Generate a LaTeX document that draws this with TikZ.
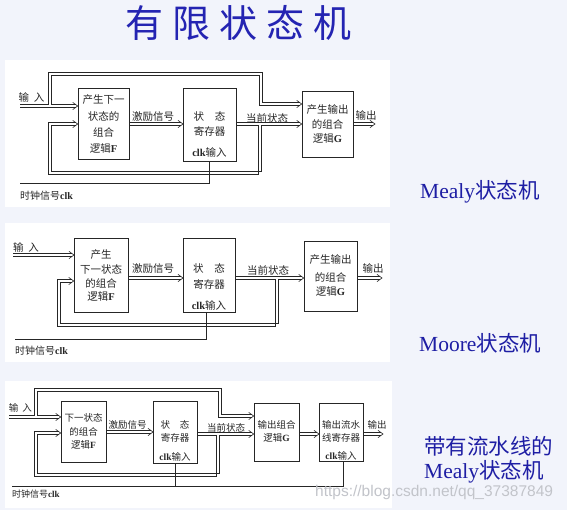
\documentclass[tikz,border=0pt]{standalone}
\usepackage{fontspec}
\setmainfont{Liberation Serif}
\newfontfamily\cjk{Noto Sans CJK SC}
\newfontfamily\cjkttl[LetterSpace=24]{Noto Sans CJK SC}
\newfontfamily\wmfont{Liberation Sans}
\definecolor{bgc}{HTML}{F2F4FB}
\definecolor{ttl}{HTML}{2424B2}
\definecolor{lbl}{HTML}{1E1EA4}
\definecolor{lnc}{HTML}{262626}
\definecolor{wmc}{HTML}{C2C4CA}
\newcommand{\lat}[1]{{\rmfamily\bfseries #1}}
\tikzset{
  blk/.style={draw=lnc, line width=0.6pt, fill=white, inner sep=0pt},
  ta/.style={font=\cjk\fontsize{10.5}{12}\selectfont, inner sep=0pt, text=lnc},
  tb/.style={font=\cjk\fontsize{9.5}{11}\selectfont, inner sep=0pt, text=lnc},
  sl/.style={draw=lnc, line width=0.6pt, line join=miter},
  chev/.pic={\draw[lnc, line width=0.6pt, line join=miter] (-5,-3.6) -- (0,0) -- (-5,3.6);},
  clkl/.style={draw=lnc, line width=0.6pt},
  side/.style={font=\fontsize{21.5}{24}\selectfont, text=lbl, inner sep=0pt, anchor=west},
}
% straight double arrow: from x #1 to tip x #2 at height #3
\newcommand{\hdbl}[3]{%
  \draw[sl] (#1,#3-1.3) -- (#2-2,#3-1.3);
  \draw[sl] (#1,#3+1.3) -- (#2-2,#3+1.3);
  \pic at (#2,#3) {chev};}
\begin{document}
\begin{tikzpicture}[x=1pt,y=-1pt]
\useasboundingbox (0,0) rectangle (567,510);
\fill[bgc] (0,0) rectangle (567,510);
\fill[white] (5,60) rectangle (390,207);
\fill[white] (5,223) rectangle (390,362);
\fill[white] (5,381) rectangle (392,508);

\node[font=\cjkttl\fontsize{38}{42}\selectfont, text=ttl, anchor=west, inner sep=0pt] (title) at (125,23) {有限状态机};

\node[side] (s1) at (420,192) {Mealy{\cjk 状态机}};
\node[side] (s2) at (419,343) {Moore{\cjk 状态机}};
\node[side] (s3) at (424,446) {{\cjk 带有流水线的}};
\node[side] (s4) at (424,472) {Mealy{\cjk 状态机}};

% ---------- diagram 1 ----------
\node[blk, minimum width=51pt, minimum height=71pt] (F1) at (103.5,123.5) {};
\node[blk, minimum width=53pt, minimum height=73pt] (R1) at (209.5,124.5) {};
\node[blk, minimum width=51pt, minimum height=66pt] (G1) at (327.5,124) {};
\node[ta] (F1a) at (103.5,100) {产生下一};
\node[ta] (F1b) at (103.5,116.5) {状态的};
\node[ta] (F1c) at (103.5,132) {组合};
\node[ta] (F1d) at (103.5,148.5) {逻辑\lat{F}};
\node[ta] (R1a) at (209.5,116) {状\hspace{11pt}态};
\node[ta] (R1b) at (209.5,131.5) {寄存器};
\node[ta] (R1c) at (209.5,152) {\lat{clk}输入};
\node[ta] (G1a) at (327.5,110) {产生输出};
\node[ta] (G1b) at (327.5,124) {的组合};
\node[ta] (G1c) at (327.5,139) {逻辑\lat{G}};
\node[ta] (L1a) at (31.5,97) {输\hspace{5pt}入};
\node[ta] (L1b) at (153,117) {激励信号};
\node[ta] (L1c) at (267,118) {当前状态};
\node[ta] (L1d) at (366,115) {输出};
\node[ta, anchor=west, font=\cjk\fontsize{10}{12}\selectfont] (L1e) at (20,196) {时钟信号\lat{clk}};

% input and its branch to G
\draw[sl] (20,107.3) -- (76,107.3);
\draw[sl] (20,104.7) -- (48.7,104.7) -- (48.7,72.7) -- (262.3,72.7) -- (262.3,102.7) -- (300,102.7);
\draw[sl] (76,104.7) -- (51.3,104.7) -- (51.3,75.3) -- (259.7,75.3) -- (259.7,105.3) -- (300,105.3);
\pic at (F1.west |- 0,106) {chev};
\pic at (G1.west |- 0,104) {chev};
% current state and feedback
\draw[sl] (236,122.7) -- (300,122.7);
\draw[sl] (236,125.3) -- (258.7,125.3) -- (258.7,174.3) -- (48.7,174.3) -- (48.7,122.7) -- (76,122.7);
\draw[sl] (300,125.3) -- (261.3,125.3) -- (261.3,171.7) -- (51.3,171.7) -- (51.3,125.3) -- (76,125.3);
\pic at (F1.west |- 0,124) {chev};
\pic at (G1.west |- 0,124) {chev};
% excitation and output
\hdbl{129}{183}{124}
\hdbl{353}{375}{124}
\coordinate (c1) at (20,183);
\coordinate (c1e) at (209,183);
\draw[clkl] (c1) -- (c1e) -- (c1e |- R1.south);

% ---------- diagram 2 ----------
\node[blk, minimum width=54pt, minimum height=74pt] (F2) at (101,275) {};
\node[blk, minimum width=52pt, minimum height=74pt] (R2) at (209,275) {};
\node[blk, minimum width=53pt, minimum height=70pt] (G2) at (330.5,276) {};
\node[ta] (F2a) at (101,255) {产生};
\node[ta] (F2b) at (101,269) {下一状态};
\node[ta] (F2c) at (101,283) {的组合};
\node[ta] (F2d) at (101,297) {逻辑\lat{F}};
\node[ta] (R2a) at (209,268) {状\hspace{11pt}态};
\node[ta] (R2b) at (209,284) {寄存器};
\node[ta] (R2c) at (209,305) {\lat{clk}输入};
\node[ta] (G2a) at (330.5,260) {产生输出};
\node[ta] (G2b) at (330.5,277) {的组合};
\node[ta] (G2c) at (330.5,292) {逻辑\lat{G}};
\node[ta] (L2a) at (26,247) {输\hspace{5pt}入};
\node[ta] (L2b) at (153,269) {激励信号};
\node[ta] (L2c) at (268,270) {当前状态};
\node[ta] (L2d) at (373,268) {输出};
\node[ta, anchor=west, font=\cjk\fontsize{10}{12}\selectfont] (L2e) at (15,351) {时钟信号\lat{clk}};

\hdbl{13}{74}{255}
\hdbl{128}{183}{278}
\draw[sl] (235,276.7) -- (302,276.7);
\draw[sl] (235,279.3) -- (275.7,279.3) -- (275.7,326.3) -- (57.7,326.3) -- (57.7,279.7) -- (72,279.7);
\draw[sl] (302,279.3) -- (278.3,279.3) -- (278.3,323.7) -- (60.3,323.7) -- (60.3,282.3) -- (72,282.3);
\pic at (F2.west |- 0,281) {chev};
\pic at (G2.west |- 0,278) {chev};
\hdbl{357}{382}{278}
\coordinate (c2) at (15,339);
\coordinate (c2e) at (206,339);
\draw[clkl] (c2) -- (c2e) -- (c2e |- R2.south);

% ---------- diagram 3 ----------
\node[blk, minimum width=45pt, minimum height=61pt] (F3) at (83.5,431.5) {};
\node[blk, minimum width=44pt, minimum height=62pt] (R3) at (175,432) {};
\node[blk, minimum width=45pt, minimum height=58pt] (G3) at (276.5,432) {};
\node[blk, minimum width=44pt, minimum height=58pt] (P3) at (341,432) {};
\node[tb] (F3a) at (83.5,418) {下一状态};
\node[tb] (F3b) at (83.5,432) {的组合};
\node[tb] (F3c) at (83.5,445) {逻辑\lat{F}};
\node[tb] (R3a) at (175,425) {状\hspace{10pt}态};
\node[tb] (R3b) at (175,438) {寄存器};
\node[tb] (R3c) at (175,457) {\lat{clk}输入};
\node[tb] (G3a) at (276.5,425) {输出组合};
\node[tb] (G3b) at (276.5,438) {逻辑\lat{G}};
\node[tb] (P3a) at (341,425) {输出流水};
\node[tb] (P3b) at (341,438) {线寄存器};
\node[tb] (P3c) at (341,456) {\lat{clk}输入};
\node[tb] (L3a) at (20.5,408) {输\hspace{4pt}入};
\node[tb] (L3b) at (127.5,425) {激励信号};
\node[tb] (L3c) at (226,428) {当前状态};
\node[tb] (L3d) at (377,425) {输出};
\node[tb, anchor=west, font=\cjk\fontsize{9}{11}\selectfont] (L3e) at (12,494) {时钟信号\lat{clk}};

\draw[sl] (9,418.3) -- (59,418.3);
\draw[sl] (9,415.7) -- (34.7,415.7) -- (34.7,388.7) -- (221.3,388.7) -- (221.3,414.7) -- (252,414.7);
\draw[sl] (59,415.7) -- (37.3,415.7) -- (37.3,391.3) -- (218.7,391.3) -- (218.7,417.3) -- (252,417.3);
\pic at (F3.west |- 0,417) {chev};
\pic at (G3.west |- 0,416) {chev};
\hdbl{106}{153}{432}
\draw[sl] (197,432.7) -- (252,432.7);
\draw[sl] (197,435.3) -- (216.7,435.3) -- (216.7,476.3) -- (34.7,476.3) -- (34.7,431.7) -- (59,431.7);
\draw[sl] (252,435.3) -- (219.3,435.3) -- (219.3,473.7) -- (37.3,473.7) -- (37.3,434.3) -- (59,434.3);
\pic at (F3.west |- 0,433) {chev};
\pic at (G3.west |- 0,434) {chev};
\hdbl{299}{319}{434}
\hdbl{363}{383}{434}
\coordinate (c3) at (12,486);
\coordinate (c3e) at (343,486);
\draw[clkl] (c3) -- (c3e) -- (c3e |- P3.south);
\coordinate (c3m) at (175,486);
\draw[clkl] (c3m) -- (R3.south);

\node[font=\wmfont\fontsize{15.5}{18}\selectfont, text=wmc, anchor=west, inner sep=0pt] (wm) at (315,492) {https://blog.csdn.net/qq\_37387849};
\end{tikzpicture}
\end{document}
